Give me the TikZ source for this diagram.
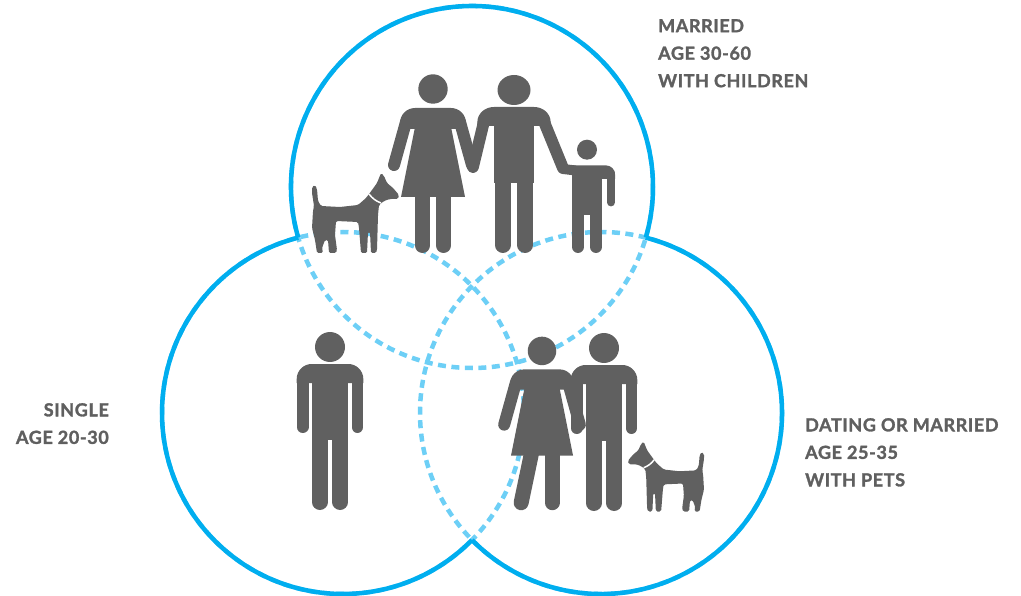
\documentclass[tikz,border=0pt]{standalone}
\usepackage{fontspec}
\newfontfamily\groupfont{Lato}[BoldFeatures={FakeBold=1.6, LetterSpace=3.5}]
\definecolor{ringblue}{HTML}{00AEEF}
\definecolor{dashblue}{HTML}{6DCFF6}
\definecolor{icongray}{HTML}{606060}
\definecolor{textgray}{HTML}{5F5F5F}

\begin{document}
\begin{tikzpicture}[x=1pt, y=-1pt,
    ring/.style = {draw=ringblue, line width=4.5pt},
    overlap/.style = {draw=dashblue, line width=4.5pt, dash pattern=on 8pt off 5.5pt},
    grouptext/.style = {font=\groupfont\bfseries\fontsize{18}{27.5}\selectfont, text=textgray, inner sep=0pt, align=left},
    icon/.style = {fill=icongray},
    limb/.style = {draw=icongray, line cap=round, line width=#1},
    pics/man/.style 2 args = {code = {
      \fill[icon] (0,-163) circle[radius=15];
      \fill[icon] (-33.3,-127) -- (-33.3,-131) arc[start angle=180, end angle=270, radius=15]
        -- (18.3,-146) arc[start angle=270, end angle=360, radius=15] -- (33.3,-127) -- cycle;
      \fill[icon] (-18,-132) rectangle (18,-70);
      \draw[limb=11.8] (-27.4,-131) -- #1;
      \draw[limb=11.8] (27.4,-131) -- #2;
      \draw[limb=15.7] (-10.15,-80) -- (-10.15,-7.85);
      \draw[limb=15.7] (10.15,-80) -- (10.15,-7.85);
    }},
    pics/woman/.style = {code = {
      \fill[icon] (0,-164) circle[radius=14.7];
      \fill[icon] (-33,-124) -- (-33,-130) arc[start angle=180, end angle=270, radius=15]
        -- (18,-145) arc[start angle=270, end angle=360, radius=15] -- (33,-124) -- cycle;
      \draw[limb=12] (-27,-131) -- (-39,-88);
      \draw[limb=12] (27,-131) -- (39,-88);
      \fill[icon] (-18,-126) -- (18,-126) -- (32,-56) -- (-32,-56) -- cycle;
      \draw[limb=15] (-10.5,-60) -- ({-10.5+#1},-7.5);
      \draw[limb=15] (10.5,-60) -- (10.5,-7.5);
    }},
    pics/woman/.default = 0,
    pics/child/.style = {code = {
      \fill[icon] (0,-103.3) circle[radius=10];
      \fill[icon] (-15,-74) -- (-15,-87.6) -- (19,-87.6) arc[start angle=270, end angle=360, radius=9]
        -- (28,-74) -- cycle;
      \fill[icon] (-15,-80) rectangle (15,-38);
      \draw[limb=8] (24,-80) -- (24,-50.6);
      \draw[limb=10] (-12,-82.6) -- (-24,-84);
      \draw[limb=12] (-9,-42) -- (-9,-6);
      \draw[limb=12] (9,-42) -- (9,-6);
    }},
    pics/dog/.style = {code = {
      \fill[icon, rounded corners=1.5] (-43,-42) -- (-42,-47) -- (-44,-60) -- (-44,-66) -- (-41,-68)
        -- (-39,-64) -- (-38,-52) -- (-35,-47) -- (-16,-46) -- (2,-48) -- (10,-55) -- (16,-63)
        -- (21,-70) -- (25,-80) -- (28,-77) -- (31,-70) -- (37,-65) -- (43,-58) -- (42,-54)
        -- (34,-54) -- (28,-52) -- (23,-48) -- (22,-38) -- (21,-3) -- (20,0) -- (15,0)
        -- (14,-21) -- (12,-21) -- (11,0) -- (5,0) -- (3,-25) -- (2,-31) -- (-20,-32)
        -- (-21,-18) -- (-19,-3) -- (-20,0) -- (-27,0) -- (-28,-13) -- (-31,-13) -- (-34,-5)
        -- (-33,0) -- (-39,0) -- (-41,-13) -- (-44,-25) -- cycle;
      \draw[white, line width=1.5pt] (13,-59) to[bend right=15] (25,-50);
    }},
  ]
  \useasboundingbox (0,0) rectangle (1021,596);

  % circle centres
  \coordinate (ctop) at (472,187);
  \coordinate (cleft) at (343,413);
  \coordinate (cright) at (601,413);

  \foreach \c in {ctop,cleft,cright}
    \draw[overlap] (\c) circle[radius=181];

  \draw[ring] (ctop) ++(163.8:181) arc[start angle=163.8, end angle=376.2, radius=181];
  \draw[ring] (cleft) ++(44.6:181) arc[start angle=44.6, end angle=255.7, radius=181];
  \draw[ring] (cright) ++(-75.7:181) arc[start angle=-75.7, end angle=135.4, radius=181];

  % family
  \pic at (356,253) {dog};
  \pic at (433,253) {woman};
  \pic[xscale=1.1] at (514,253) {man={(-37.3,-86)}{(44.5,-85)}};
  \pic at (587,253) {child};

  % single
  \pic at (330,510) {man={(-27.4,-82.9)}{(27.4,-82.9)}};

  % couple with pet
  \pic[scale=0.97] at (542,510) {woman=-11};
  \pic at (604,511) {man={(-27.4,-82.9)}{(27.4,-82.9)}};
  \pic[xscale=-0.875, yscale=0.875] at (665.5,511.5) {dog};

  \node[grouptext, anchor=north west] (married) at (658,19) {MARRIED\\AGE 30-60\\WITH CHILDREN};
  \node[grouptext, anchor=north east, align=right] (single) at (109,403) {SINGLE\\AGE 20-30};
  \node[grouptext, anchor=north west] (dating) at (805,418) {DATING OR MARRIED\\AGE 25-35\\WITH PETS};
\end{tikzpicture}
\end{document}
